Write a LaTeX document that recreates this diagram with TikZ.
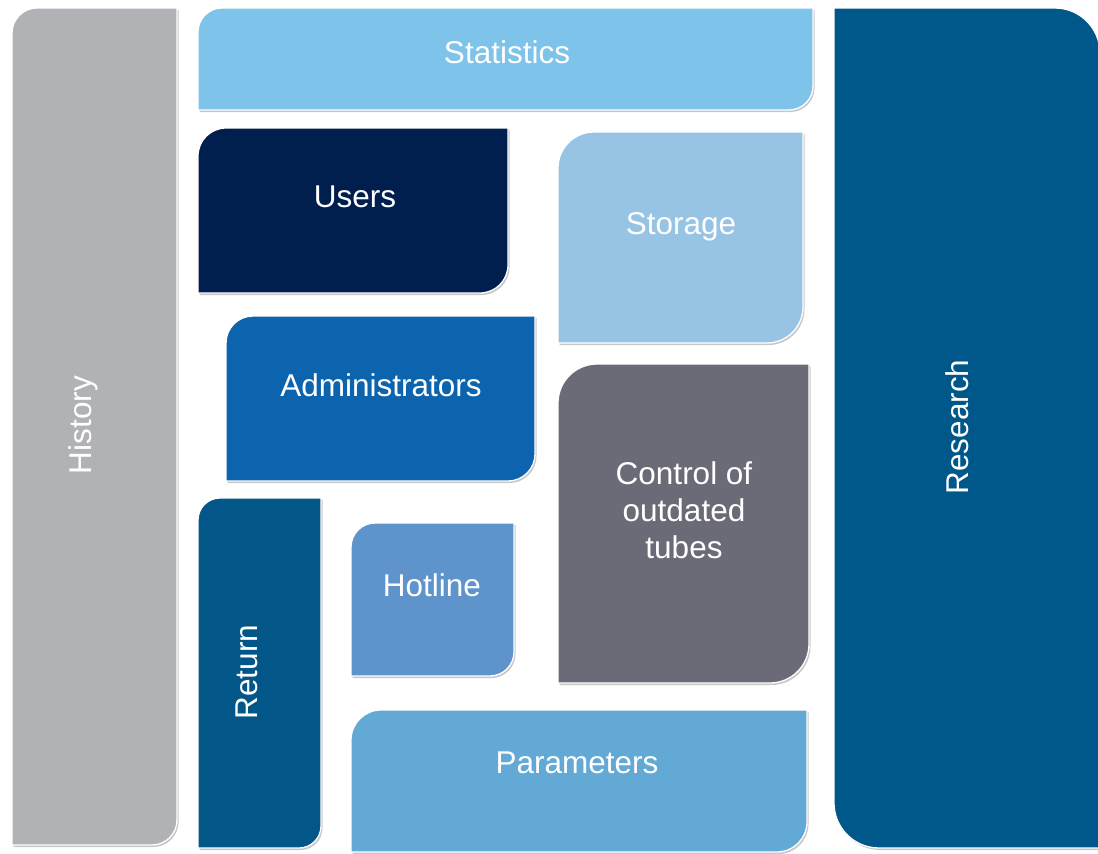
\documentclass[tikz,border=0pt]{standalone}
\usepackage{fontspec}
\setmainfont{Liberation Sans}
\usetikzlibrary{shadows}
\definecolor{cHistory}{HTML}{B1B2B6}
\definecolor{cStat}{HTML}{7DC3EA}
\definecolor{cUsers}{HTML}{001F4E}
\definecolor{cStorage}{HTML}{97C3E4}
\definecolor{cAdmin}{HTML}{0C64AE}
\definecolor{cControl}{HTML}{6A6B77}
\definecolor{cResearch}{HTML}{005789}
\definecolor{cReturn}{HTML}{035688}
\definecolor{cHotline}{HTML}{5E93CC}
\definecolor{cParam}{HTML}{62A9D6}
\newcommand\tlbr[6]{\draw[tile,fill=#6] (#1,#4) -- (#1,{#2+#5}) .. controls (#1,{#2+0.4477*#5}) and ({#1+0.4477*#5},#2) .. ({#1+#5},#2) -- (#3,#2) -- (#3,{#4-#5}) .. controls (#3,{#4-0.4477*#5}) and ({#3-0.4477*#5},#4) .. ({#3-#5},#4) -- cycle;}
\newcommand\trbl[6]{\draw[tile,fill=#6] (#1,#2) -- ({#3-#5},#2) .. controls ({#3-0.4477*#5},#2) and (#3,{#2+0.4477*#5}) .. (#3,{#2+#5}) -- (#3,#4) -- ({#1+#5},#4) .. controls ({#1+0.4477*#5},#4) and (#1,{#4-0.4477*#5}) .. (#1,{#4-#5}) -- cycle;}
\tikzset{
  tile/.style={draw=white,line width=1.3pt,drop shadow={shadow xshift=1.5pt,shadow yshift=-2pt,opacity=0.22,fill=black}},
  lbl/.style={text=white,font=\fontsize{31.5}{37}\selectfont,align=center,inner sep=0pt},
}
\begin{document}
\begin{tikzpicture}[x=1pt,y=-1pt]
\useasboundingbox[fill=white] (0,0) rectangle (1098,854);
\tlbr{12}{8}{177}{845}{25}{cHistory}
\tlbr{198}{8}{813}{110}{24}{cStat}
\tlbr{198}{128}{508}{293}{28}{cUsers}
\tlbr{558}{132}{803}{343}{36}{cStorage}
\tlbr{226}{316}{535}{481}{27}{cAdmin}
\tlbr{558}{364}{809}{683}{39}{cControl}
\tlbr{198}{498}{321}{848}{22}{cReturn}
\tlbr{351}{523}{514}{676}{24}{cHotline}
\tlbr{351}{710}{807}{852}{30}{cParam}
\trbl{834}{8}{1100}{848}{45}{cResearch}
\node[lbl] (statistics) at (507,52) {Statistics};
\node[lbl] (users) at (355,197) {Users};
\node[lbl] (storage) at (681,227) {Storage};
\node[lbl] (admin) at (381,385) {Administrators};
\node[lbl] (control) at (684,510) {Control of\\outdated\\tubes};
\node[lbl] (hotline) at (432,585) {Hotline};
\node[lbl] (params) at (577,763) {Parameters};
\node[lbl,rotate=90] (history) at (83,425) {History};
\node[lbl,rotate=90] (return) at (247,672) {Return};
\node[lbl,rotate=90] (research) at (957,427) {Research};
\end{tikzpicture}
\end{document}
